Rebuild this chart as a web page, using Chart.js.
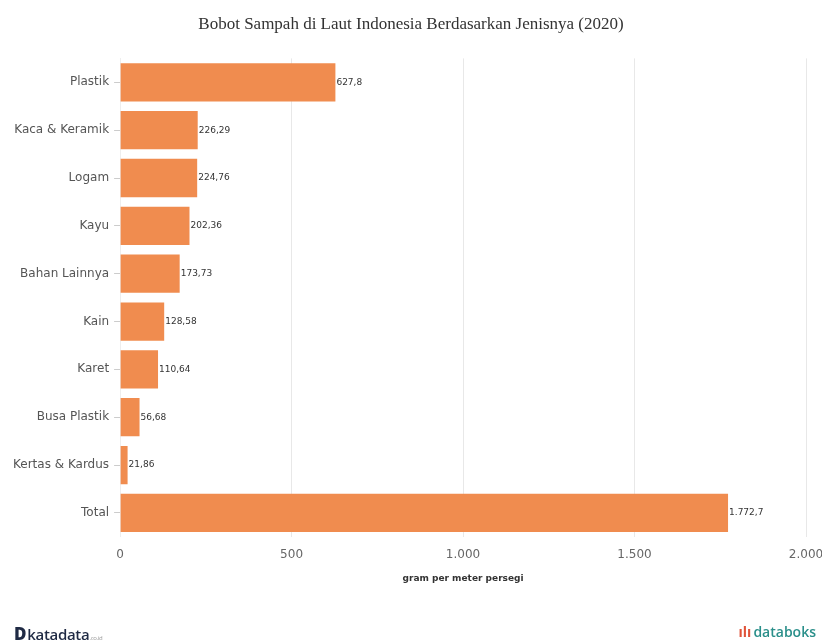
<!DOCTYPE html>
<html>
<head>
<meta charset="utf-8">
<script src="https://cdn.jsdelivr.net/npm/chart.js@4/dist/chart.umd.min.js"></script>
<style>
  html, body { margin: 0; padding: 0; background: #fff; }
  #wrap { position: relative; width: 822px; height: 644px; }
  #c { position: absolute; left: 0; top: 0; }
  .logoL { position: absolute; left: 14px; top: 622px; font-family: "Open Sans", "DejaVu Sans", sans-serif; font-size: 15px; color: #1f2a44; font-weight: 600; letter-spacing: -0.3px; }
  .logoL b { font-size: 17px; font-weight: 800; margin-right: 1px; }
  .logoL small { font-size: 6px; color: #999; font-weight: 400; }
  .logoR { position: absolute; right: 6px; top: 622px; font-family: "Open Sans", "DejaVu Sans", sans-serif; font-size: 14px; color: #2a8f8a; font-weight: 600; }
  .logoR span { color: #e0533a; font-weight: 700; margin-right: 2px; }
</style>
</head>
<body>
<div id="wrap">
  <canvas id="c" width="822" height="644"></canvas>
  <div class="logoL"><b>D</b>katadata<small>.co.id</small></div>
  <div class="logoR"><span>ılı</span>databoks</div>
</div>
<script>
const categories = ["Plastik", "Kaca & Keramik", "Logam", "Kayu", "Bahan Lainnya", "Kain", "Karet", "Busa Plastik", "Kertas & Kardus", "Total"];
const values = [627.8, 226.29, 224.76, 202.36, 173.73, 128.58, 110.64, 56.68, 21.86, 1772.7];
const xTicks = [0, 500, 1000, 1500, 2000];
const titleText = "Bobot Sampah di Laut Indonesia Berdasarkan Jenisnya (2020)";
const xAxisTitle = "gram per meter persegi";

function fmtId(v) {
  return v.toLocaleString('id-ID', { maximumFractionDigits: 2 });
}

const valueLabels = {
  id: 'valueLabels',
  afterDatasetsDraw(chart) {
    const ctx = chart.ctx;
    const meta = chart.getDatasetMeta(0);
    ctx.save();
    ctx.font = '9px "DejaVu Sans", sans-serif';
    ctx.fillStyle = '#333';
    ctx.textAlign = 'left';
    ctx.textBaseline = 'middle';
    meta.data.forEach((bar, i) => {
      ctx.fillText(fmtId(values[i]), bar.x + 1, bar.y);
    });
    ctx.restore();
  }
};

new Chart(document.getElementById('c'), {
  type: 'bar',
  data: {
    labels: categories,
    datasets: [{
      data: values,
      backgroundColor: '#f08c4f',
      borderWidth: 0,
      barPercentage: 0.8,
      categoryPercentage: 1.0
    }]
  },
  options: {
    indexAxis: 'y',
    responsive: false,
    animation: false,
    layout: { padding: { left: 0, right: 0, top: 8, bottom: 56 } },
    plugins: {
      legend: { display: false },
      tooltip: { enabled: false },
      title: {
        display: true,
        text: titleText,
        color: '#333',
        font: { family: '"Liberation Serif", "Times New Roman", serif', size: 17, weight: 'normal' },
        padding: { top: 6, bottom: 24 }
      }
    },
    scales: {
      x: {
        min: 0,
        max: 2000,
        afterBuildTicks(axis) { axis.ticks = xTicks.map(v => ({ value: v })); },
        afterFit(axis) { axis.paddingRight = 16; },
        ticks: {
          color: '#666',
          font: { family: '"DejaVu Sans", sans-serif', size: 12 },
          padding: 11,
          callback: (v) => fmtId(v)
        },
        grid: { color: '#e8e8e8', drawTicks: false, lineWidth: 1 },
        border: { display: false },
        title: {
          display: true,
          text: xAxisTitle,
          color: '#333',
          font: { family: '"DejaVu Sans", sans-serif', size: 9, weight: 'bold' },
          padding: { top: 0 }
        }
      },
      y: {
        afterFit(axis) { axis.width += 8; },
        ticks: {
          color: '#555',
          font: { family: '"DejaVu Sans", sans-serif', size: 12 },
          padding: 5
        },
        grid: { offset: false, drawOnChartArea: false, drawTicks: true, tickLength: 6, color: '#ccc' },
        border: { display: true, color: '#eee' }
      }
    }
  },
  plugins: [valueLabels]
});
</script>
</body>
</html>
